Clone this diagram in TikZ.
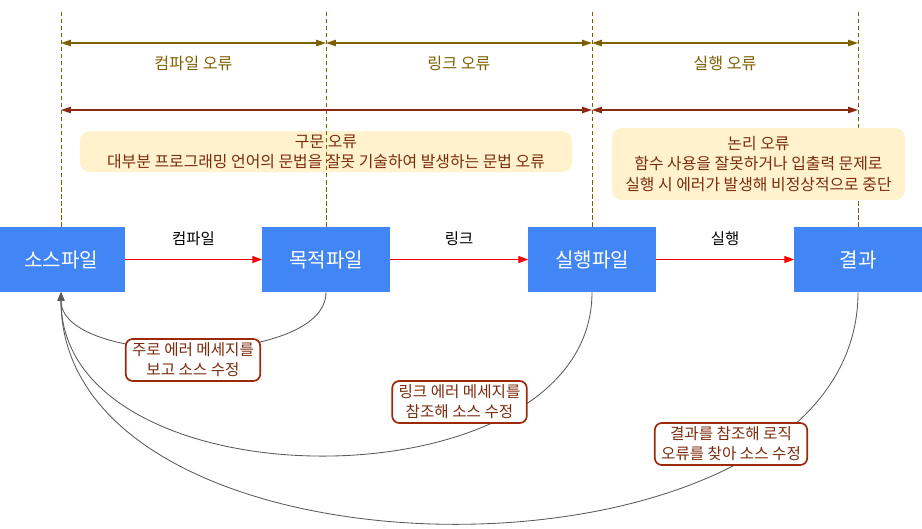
\documentclass[tikz,border=0pt]{standalone}
\usepackage{fontspec}
\setmainfont{Noto Sans CJK KR}
\usepackage{xcolor}
\usetikzlibrary{positioning, calc, arrows.meta, backgrounds}

\definecolor{fileblue}{HTML}{4285F4}
\definecolor{erryellow}{HTML}{FFF2CC}
\definecolor{errtext}{HTML}{7B2C0E}
\definecolor{fixred}{HTML}{9C2A0A}
\definecolor{errline}{HTML}{8B2A14}
\definecolor{guideolive}{HTML}{7F6000}
\definecolor{fixgray}{HTML}{595959}

\begin{document}
\begin{tikzpicture}[x=0.025cm, y=-0.025cm,
    filebox/.style={fill=fileblue, text=white, minimum width=3.175cm, minimum height=1.625cm, inner sep=0pt, font=\fontsize{14.3}{16}\selectfont},
    errbox/.style={fill=erryellow, text=errtext, rounded corners=7pt, align=center, inner sep=0pt, font=\fontsize{11.3}{14}\selectfont},
    fixbox/.style={draw=fixred, line width=1.2pt, fill=white, text=errtext, rounded corners=5pt, align=center, inner xsep=4.5pt, inner ysep=1pt, minimum height=1.05cm, font=\fontsize{11.1}{14.2}\selectfont},
    guide/.style={draw=guideolive, dash pattern=on 3pt off 2pt, line width=0.6pt},
    spanarrow/.style={guideolive, line width=0.8pt, {Triangle[length=7pt,width=4.5pt]}-{Triangle[length=7pt,width=4.5pt]}},
    kindarrow/.style={errline, line width=0.8pt, {Triangle[length=7pt,width=4.5pt]}-{Triangle[length=7pt,width=4.5pt]}},
    steparrow/.style={red, line width=0.6pt, -{Triangle[length=7pt,width=5pt]}},
    fixline/.style={fixgray, line width=0.6pt, -{Triangle[length=6pt,width=5pt]}},
    toplabel/.style={text=guideolive, font=\fontsize{11.5}{13}\selectfont},
    steplabel/.style={text=black, font=\fontsize{11}{13}\selectfont}
]
\useasboundingbox (0,0) rectangle (922,528);

% files
\node[filebox] (src) at (61,259.5)  {소스파일};
\node[filebox] (obj) at (326,259.5) {목적파일};
\node[filebox] (exe) at (592,259.5) {실행파일};
\node[filebox] (res) at (858,259.5) {결과};

% guides behind everything
\coordinate (top) at (0,12);
\coordinate (span) at (0,43);
\coordinate (kind) at (0,110);
\begin{pgfonlayer}{background}
\node[errbox, minimum width=12.3cm, minimum height=1.025cm] (syntax) at (326,151.5)
    {구문 오류\\대부분 프로그래밍 언어의 문법을 잘못 기술하여 발생하는 문법 오류};
\foreach \n in {src,obj,exe,res}
    \draw[guide] (\n.north) -- (\n.north |- top);
\end{pgfonlayer}

\node[errbox, minimum width=7.325cm, minimum height=1.8cm, font=\fontsize{11.3}{14.5}\selectfont] (logic) at (758.5,164)
    {논리 오류\\함수 사용을 잘못하거나 입출력 문제로\\실행 시 에러가 발생해 비정상적으로 중단};

\draw[spanarrow] (src.north |- span) -- node[toplabel, midway, yshift=-0.5cm] {컴파일 오류} (obj.north |- span);
\draw[spanarrow] (obj.north |- span) -- node[toplabel, midway, yshift=-0.5cm] {링크 오류} (exe.north |- span);
\draw[spanarrow] (exe.north |- span) -- node[toplabel, midway, yshift=-0.5cm] {실행 오류} (res.north |- span);
\draw[kindarrow] (src.north |- kind) -- (exe.north |- kind);
\draw[kindarrow] (exe.north |- kind) -- (res.north |- kind);

% steps
\draw[steparrow] (src) -- node[steplabel, midway, yshift=0.51cm] {컴파일} (obj);
\draw[steparrow] (obj) -- node[steplabel, midway, yshift=0.51cm] {링크} (exe);
\draw[steparrow] (exe) -- node[steplabel, midway, yshift=0.51cm] {실행} (res);

% back to source
\draw[fixline] (obj.south) .. controls +(0,75) and +(0,75) .. (src.south);
\draw[fixline] (exe.south) .. controls +(0,217) and +(0,217) .. (src.south);
\draw[fixline] (res.south) .. controls +(0,308) and +(0,308) .. (src.south);
\node[fixbox] (fix1) at (193,360)   {주로 에러 메세지를\\보고 소스 수정};
\node[fixbox] (fix2) at (459.5,402) {링크 에러 메세지를\\참조해 소스 수정};
\node[fixbox] (fix3) at (731,444)   {결과를 참조해 로직\\오류를 찾아 소스 수정};
\end{tikzpicture}
\end{document}
